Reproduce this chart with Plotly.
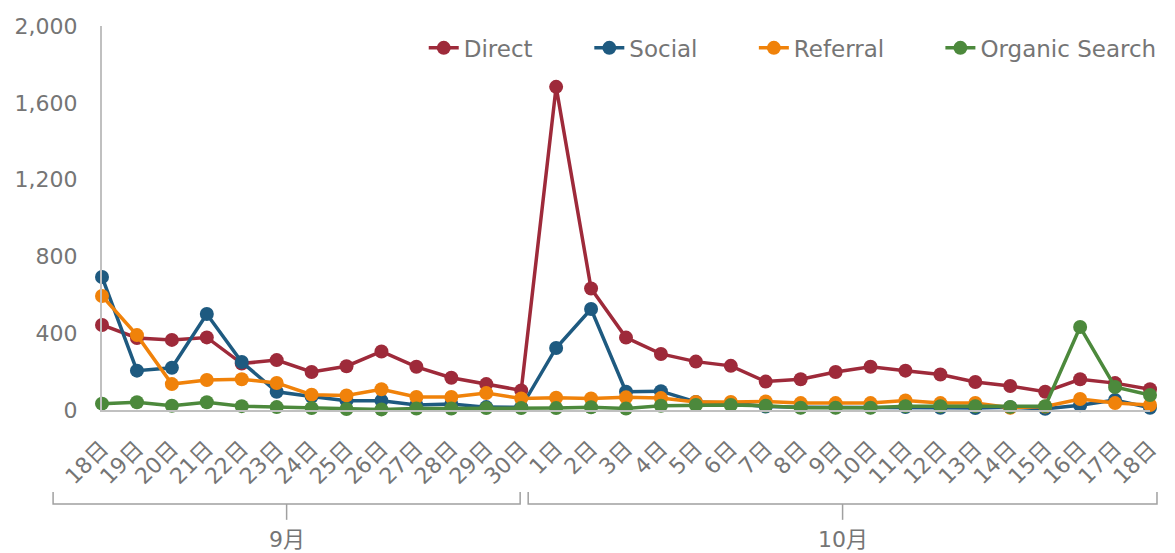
import plotly.graph_objects as go

days = ["18日", "19日", "20日", "21日", "22日", "23日", "24日", "25日", "26日", "27日", "28日", "29日", "30日",
        "1日", "2日", "3日", "4日", "5日", "6日", "7日", "8日", "9日", "10日", "11日", "12日", "13日", "14日",
        "15日", "16日", "17日", "18日"]
months = ["9月", "10月"]

direct = [443, 375, 365, 378, 242, 260, 198, 228, 305, 225, 168, 135, 102,
          1683, 633, 377, 292, 252, 230, 148, 160, 198, 225, 205, 185, 146, 125, 95, 160, 140, 108]
social = [693, 205, 220, 500, 250, 95, 70, 48, 48, 26, 31, 15, 14,
          323, 526, 95, 98, 42, 36, 18, 14, 14, 14, 16, 12, 10, 14, 6, 25, 52, 12]
referral = [594, 390, 135, 156, 160, 141, 80, 76, 108, 68, 68, 88, 60,
            64, 60, 66, 62, 42, 42, 44, 36, 36, 36, 50, 36, 37, 12, 18, 57, 36, 26]
organic = [33, 40, 22, 40, 20, 15, 10, 5, 3, 8, 8, 10, 10,
           10, 14, 8, 22, 26, 26, 22, 12, 12, 12, 20, 20, 20, 16, 20, 432, 120, 78]

series = [("Direct", direct, "#9E2A3A"),
          ("Social", social, "#1E5A80"),
          ("Referral", referral, "#F0820A"),
          ("Organic Search", organic, "#4C893C")]

FONT = "DejaVu Sans, Noto Sans CJK JP, sans-serif"
GRAY = "#757575"

xs = list(range(len(days)))
n_last = len(days) - 1

fig = go.Figure()
legend_x = [0.307, 0.465, 0.622, 0.800]
for i, (name, vals, col) in enumerate(series):
    fig.add_trace(go.Scatter(
        x=xs, y=vals, name=name, mode="lines+markers",
        line=dict(color=col, width=3.5),
        marker=dict(color=col, size=14, symbol="circle"),
        cliponaxis=False,
        legend="legend" if i == 0 else f"legend{i+1}",
    ))

legend_common = dict(orientation="h", yanchor="middle", y=0.943, xanchor="left",
                     font=dict(family=FONT, size=23, color=GRAY),
                     bgcolor="rgba(0,0,0,0)", itemwidth=30)
layout_legends = {}
for i in range(4):
    key = "legend" if i == 0 else f"legend{i+1}"
    layout_legends[key] = dict(legend_common, x=legend_x[i])

fig.update_layout(
    width=1167, height=545,
    margin=dict(l=94, r=25, t=18, b=143),
    paper_bgcolor="white", plot_bgcolor="white",
    showlegend=True,
    font=dict(family=FONT, color=GRAY),
    xaxis=dict(range=[0, n_last], tickmode="array", tickvals=xs, ticktext=days,
               tickangle=-45, tickfont=dict(family=FONT, size=22, color=GRAY),
               showgrid=False, zeroline=False, showline=True, linecolor="#C0C0C0",
               linewidth=2, ticks="", ticklabelstandoff=15, fixedrange=True, automargin=False),
    yaxis=dict(range=[0, 2000], tickmode="array", tickvals=[0, 400, 800, 1200, 1600, 2000],
               tickformat=",", tickfont=dict(family=FONT, size=22, color=GRAY),
               showgrid=False, zeroline=False, showline=True, linecolor="#C0C0C0",
               linewidth=2, ticks="", ticklabelstandoff=18, fixedrange=True, automargin=False),
    **layout_legends,
)

# month group brackets (decoration), in category units converted to paper
bracket_x = [(-1.4, 11.97), (12.2, 30.2)]
y_top, y_mid, y_bot = -0.2135, -0.245, -0.286
for (x0, x1), m in zip(bracket_x, months):
    p0, p1 = x0 / n_last, x1 / n_last
    pm = (p0 + p1) / 2
    fig.add_shape(type="path", xref="paper", yref="paper",
                  path=f"M {p0},{y_top} L {p0},{y_mid} L {p1},{y_mid} L {p1},{y_top}",
                  line=dict(color="#A0A0A0", width=1.5))
    fig.add_shape(type="line", xref="paper", yref="paper", x0=pm, x1=pm, y0=y_mid, y1=y_bot,
                  line=dict(color="#A0A0A0", width=1.5))
    fig.add_annotation(x=pm, xref="paper", y=-0.338, yref="paper", text=m, showarrow=False,
                       xanchor="center", yanchor="middle",
                       font=dict(family=FONT, size=22, color=GRAY))

fig.write_html("out.html")
